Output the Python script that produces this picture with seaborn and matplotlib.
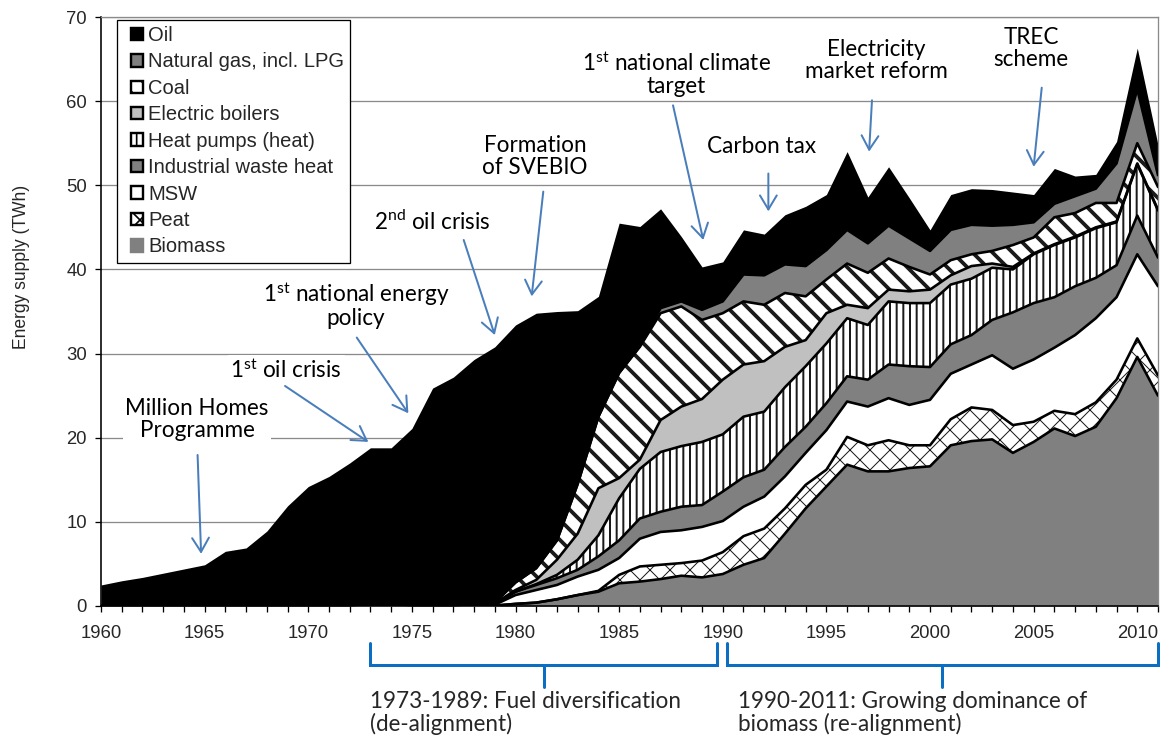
import numpy as np
import pandas as pd
import matplotlib
matplotlib.use("Agg")
import matplotlib.pyplot as plt
import seaborn as sns
from matplotlib.patches import Patch, Rectangle
from matplotlib.legend_handler import HandlerPatch
from matplotlib.ticker import MultipleLocator

# ---------------- data (TWh) ----------------
years = list(range(1960, 2012))

oil = [2.5, 3.0, 3.4, 3.9, 4.4, 4.9, 6.5, 6.9, 8.9, 11.9,
       14.2, 15.4, 17.0, 18.65, 18.65, 21.1, 25.9, 27.2, 29.15, 30.4,
       30.6, 30.3, 27.2, 20.6, 14.3, 17.8, 14.2, 11.8, 7.7, 5.1,
       4.7, 5.3, 4.9, 5.9, 7.1, 6.6, 9.3, 5.5, 7.0, 4.8,
       2.5, 4.2, 4.3, 4.3, 3.9, 3.3, 4.2, 2.4, 1.7, 2.6,
       4.9, 3.6]
gas = [0, 0, 0, 0, 0, 0, 0, 0, 0, 0,
       0, 0, 0, 0, 0, 0, 0, 0, 0, 0,
       0, 0, 0, 0, 0, 0, 0.1, 0.6, 0.6, 1.2,
       1.4, 3.2, 3.5, 3.4, 3.6, 3.5, 4.0, 3.5, 3.9, 3.4,
       2.8, 3.6, 3.5, 3.0, 2.4, 1.8, 1.6, 2.0, 1.7, 4.7,
       6.4, 1.4]
coal = [0, 0, 0, 0, 0, 0, 0, 0, 0, 0,
        0, 0, 0, 0, 0, 0, 0, 0, 0, 0.1,
        0.9, 1.4, 2.3, 5.9, 8.5, 12.5, 13.4, 12.7, 11.9, 9.4,
        7.9, 7.5, 6.7, 6.4, 5.2, 4.0, 4.9, 4.2, 3.7, 2.9,
        1.8, 1.8, 1.4, 1.5, 2.6, 1.9, 3.2, 2.8, 2.9, 2.2,
        2.4, 2.7]
elec_boilers = [0, 0, 0, 0, 0, 0, 0, 0, 0, 0,
                0, 0, 0, 0, 0, 0, 0, 0, 0, 0.05,
                0.2, 0.5, 1.8, 3.1, 5.6, 2.4, 1.1, 3.8, 4.7, 5.1,
                6.5, 6.2, 6.0, 4.8, 3.1, 3.6, 1.6, 2.0, 1.4, 1.4,
                1.6, 1.1, 1.5, 0.5, 0.3, 0.1, 0.1, 0.1, 0.1, 0.1,
                0.1, 0.1]
heat_pumps = [0, 0, 0, 0, 0, 0, 0, 0, 0, 0,
              0, 0, 0, 0, 0, 0, 0, 0, 0, 0,
              0, 0.1, 0.4, 1.2, 2.5, 5.0, 5.9, 7.1, 7.2, 7.5,
              6.8, 7.2, 6.9, 7.1, 7.2, 7.1, 6.9, 6.5, 7.5, 7.5,
              7.6, 7.1, 6.7, 6.2, 5.1, 5.8, 6.2, 5.8, 5.9, 5.1,
              6.1, 5.6]
waste_heat = [0, 0, 0, 0, 0, 0, 0, 0, 0, 0,
              0, 0, 0, 0, 0, 0, 0, 0, 0, 0.1,
              0.4, 0.6, 0.8, 0.8, 1.6, 2.1, 2.4, 2.4, 2.8, 2.6,
              3.5, 3.5, 3.2, 3.5, 3.1, 3.2, 3.0, 3.2, 4.0, 4.6,
              3.9, 3.5, 3.5, 4.2, 6.7, 6.7, 6.0, 5.8, 4.8, 3.8,
              4.6, 3.4]
msw = [0, 0, 0, 0, 0, 0, 0, 0, 0, 0,
       0, 0, 0, 0.15, 0.15, 0, 0, 0, 0.15, 0.1,
       1.05, 1.5, 1.7, 2.2, 2.5, 2.0, 3.3, 3.9, 3.9, 4.0,
       3.7, 3.5, 3.8, 3.8, 3.8, 4.7, 4.2, 4.6, 5.0, 4.8,
       5.4, 5.4, 5.1, 6.5, 6.7, 7.4, 7.5, 9.4, 10.0, 9.8,
       10.0, 10.6]
peat = [0, 0, 0, 0, 0, 0, 0, 0, 0, 0,
        0, 0, 0, 0, 0, 0, 0, 0, 0, 0,
        0, 0, 0, 0, 0.1, 1.0, 1.8, 1.7, 1.5, 2.0,
        2.6, 3.4, 3.5, 3.0, 2.8, 2.0, 3.3, 3.1, 3.7, 2.7,
        2.5, 3.1, 4.0, 3.5, 3.3, 2.4, 2.1, 2.6, 2.9, 2.2,
        2.2, 2.4]
biomass = [0, 0, 0, 0, 0, 0, 0, 0, 0, 0,
           0, 0, 0, 0, 0, 0, 0, 0, 0, 0.05,
           0.25, 0.4, 0.8, 1.3, 1.7, 2.7, 2.9, 3.2, 3.6, 3.4,
           3.8, 4.9, 5.7, 8.6, 11.6, 14.2, 16.8, 16.0, 16.0, 16.4,
           16.6, 19.1, 19.6, 19.8, 18.2, 19.5, 21.1, 20.2, 21.3, 24.7,
           29.6, 25.0]

legend_labels = ["Oil", "Natural gas, incl. LPG", "Coal", "Electric boilers",
                 "Heat pumps (heat)", "Industrial waste heat", "MSW", "Peat", "Biomass"]

events = ["Million Homes\nProgramme",
          "1$^{\\mathrm{st}}$ oil crisis",
          "1$^{\\mathrm{st}}$ national energy\npolicy",
          "2$^{\\mathrm{nd}}$ oil crisis",
          "Formation\nof SVEBIO",
          "1$^{\\mathrm{st}}$ national climate\ntarget",
          "Carbon tax",
          "Electricity\nmarket reform",
          "TREC\nscheme"]
periods = ["1973-1989: Fuel diversification\n(de-alignment)",
           "1990-2011: Growing dominance of\nbiomass (re-alignment)"]

# ---------------- style ----------------
DPI = 120
def P(px):
    return px * 72.0 / DPI

sns.set_theme(style="white")
plt.rcParams['font.family'] = ['Liberation Sans', 'DejaVu Sans']
plt.rcParams['mathtext.fontset'] = 'custom'
plt.rcParams['mathtext.rm'] = 'Lato'
plt.rcParams['mathtext.it'] = 'Lato:italic'
plt.rcParams['mathtext.bf'] = 'Lato:bold'

W, H = 1165, 742
fig = plt.figure(figsize=(W / DPI, H / DPI), dpi=DPI)
ax = fig.add_axes([101 / W, (H - 606) / H, 1057 / W, 589 / H])

GREY = "#808080"
layers = [  # bottom -> top : label, values, face, hatch, hatch lw(px)
    ("Biomass", biomass, GREY, None, 1),
    ("Peat", peat, "white", "xx", 1.0),
    ("MSW", msw, "white", None, 1),
    ("Industrial waste heat", waste_heat, GREY, None, 1),
    ("Heat pumps (heat)", heat_pumps, "white", "|||", 2.0),
    ("Electric boilers", elec_boilers, "#C0C0C0", None, 1),
    ("Coal", coal, "white", "\\\\", 3.8),
    ("Natural gas, incl. LPG", gas, GREY, None, 1),
    ("Oil", oil, "black", None, 1),
]
styles = {}
x = np.array(years, dtype=float)
base = np.zeros(len(years))
tops = []
for name, vals, fc, hatch, hlw in layers:
    top = base + np.array(vals, dtype=float)
    with plt.rc_context({'hatch.linewidth': P(hlw)}):
        coll = ax.fill_between(x, base, top, facecolor=fc, edgecolor="#1a1a1a",
                               hatch=hatch, linewidth=0, zorder=2)
    if hasattr(coll, "set_hatch_linewidth"):
        coll.set_hatch_linewidth(P(hlw))
    styles[name] = (fc, hatch, hlw)
    tops.append((name, top))
    base = top

# layer outlines drawn with seaborn
bdf = pd.DataFrame({
    "year": np.concatenate([x for n, t in tops[:-1]]),
    "value": np.concatenate([t for n, t in tops[:-1]]),
    "layer": np.concatenate([[n] * len(x) for n, t in tops[:-1]]),
})
sns.lineplot(data=bdf, x="year", y="value", units="layer", estimator=None,
             color="black", linewidth=P(2.6), legend=False, sort=False,
             ax=ax, zorder=3)

# ---------------- axes ----------------
ax.set_xlim(1960, 2011)
ax.set_ylim(0, 70)
ax.xaxis.set_major_locator(MultipleLocator(5))
ax.xaxis.set_minor_locator(MultipleLocator(1))
ax.yaxis.set_major_locator(MultipleLocator(10))
ax.set_axisbelow(True)
ax.yaxis.grid(True, color="#8a8a8a", linewidth=P(1.3))
ax.xaxis.grid(False)
for s in ["left", "bottom"]:
    ax.spines[s].set_color("black")
    ax.spines[s].set_linewidth(P(1.6))
for s in ["top", "right"]:
    ax.spines[s].set_color("#8a8a8a")
    ax.spines[s].set_linewidth(P(1.3))
ax.tick_params(axis="x", which="both", direction="out", length=P(6), width=P(1.3),
               color="black", bottom=True, labelsize=P(18.5), pad=P(13))
ax.tick_params(axis="y", which="major", direction="out", length=P(6), width=P(1.3),
               color="black", left=True, labelsize=P(18.5), pad=P(8))
ax.set_xlabel("")
ax.set_ylabel("Energy supply (TWh)", fontsize=P(17.5))
ax.yaxis.set_label_coords(-0.067, 0.576)

# ---------------- legend ----------------
SQ = 12.5  # px, legend square size


def small_square(legend, orig_handle, xdescent, ydescent, width, height, fontsize):
    s = P(SQ)
    return Rectangle((-xdescent + width - s - P(1), -ydescent + (height - s) / 2), s, s)


handles = []
for lab in legend_labels:
    fc, hatch, hlw = styles[lab]
    ec = GREY if lab == "Biomass" else "black"
    handles.append(Patch(facecolor=fc, edgecolor=ec, hatch=hatch, linewidth=P(2.4), label=lab))
leg = ax.legend(handles=handles, loc="upper left", bbox_to_anchor=(0.0151, 0.995),
                borderaxespad=0, fontsize=P(20.1), frameon=True, fancybox=False,
                framealpha=1, edgecolor="black", handlelength=1.05, handleheight=0.62,
                handletextpad=0.2, labelspacing=0.37, borderpad=0.3,
                handler_map={Patch: HandlerPatch(patch_func=small_square)})
leg.get_frame().set_linewidth(P(1.3))
leg.set_zorder(10)

# ---------------- event annotations ----------------
ARROW = "#4A7EBB"
text_pos = [(1964.63, 22.2), (1968.93, 28.05), (1972.3, 35.8), (1976.0, 45.6),
            (1980.94, 53.4), (1987.75, 63.2), (1991.85, 54.6), (1997.4, 64.8),
            (2004.87, 66.3)]
arrow_from = [(1964.66, 17.95), (1968.88, 26.15), (1972.34, 31.9), (1977.5, 43.5),
              (1981.34, 49.25), (1987.6, 59.5), (1992.2, 51.4), (1997.2, 60.1),
              (2005.39, 61.6)]
arrow_to = [(1964.83, 6.2), (1972.9, 19.5), (1974.83, 22.9), (1979.0, 32.2),
            (1980.78, 36.8), (1989.06, 43.5), (1992.2, 46.9), (1997.06, 54.0),
            (2005.0, 52.2)]
for txt, (tx, ty), a0, a1 in zip(events, text_pos, arrow_from, arrow_to):
    ax.text(tx, ty, txt, ha="center", va="center", multialignment="center",
            family=["Lato", "DejaVu Sans"], fontsize=P(22.5), linespacing=1.05,
            color="black", zorder=6,
            bbox=dict(boxstyle="square,pad=0.12", facecolor="white", edgecolor="none"))
    ax.annotate("", xy=a1, xytext=a0,
                arrowprops=dict(arrowstyle="->,head_length=0.7,head_width=0.42",
                                color=ARROW, lw=P(2.0), shrinkA=0, shrinkB=0,
                                mutation_scale=P(20)),
                zorder=7, annotation_clip=False)

# ---------------- period brackets ----------------
BR = "#0A6FC2"
tr = ax.get_xaxis_transform()
y_top, y_mid, y_low = -0.0628, -0.100, -0.1375
for (x0, x1), lab, tx in zip([(1973.0, 1989.72), (1990.2, 2011.0)], periods, [1973.0, 1990.74]):
    ax.plot([x0, x0, x1, x1], [y_top, y_mid, y_mid, y_top], transform=tr,
            color=BR, lw=P(3), clip_on=False, solid_joinstyle="miter")
    xc = (x0 + x1) / 2
    ax.plot([xc, xc], [y_mid, y_low], transform=tr, color=BR, lw=P(3), clip_on=False)
    ax.text(tx, -0.1825, lab, transform=tr, ha="left", va="center",
            family=["Lato", "DejaVu Sans"], fontsize=P(22.5), linespacing=1.05)

fig.savefig("out.png", dpi=DPI)
